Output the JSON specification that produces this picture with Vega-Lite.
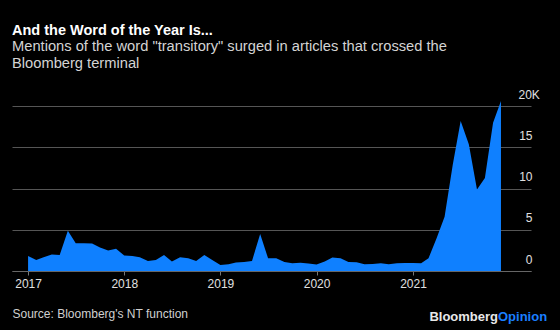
{
  "$schema": "https://vega.github.io/schema/vega-lite/v6.json",
  "autosize": "none",
  "width": 519,
  "height": 173,
  "padding": {"left": 12, "top": 98, "right": 29, "bottom": 59},
  "background": "black",
  "config": {"view": {"stroke": null}, "font": "Liberation Sans"},
  "title": {
    "text": "And the Word of the Year Is...",
    "subtitle": ["Mentions of the word \"transitory\" surged in articles that crossed the", "Bloomberg terminal"],
    "anchor": "start",
    "frame": "group",
    "color": "white",
    "font": "Liberation Sans",
    "fontSize": 14.5,
    "fontWeight": "bold",
    "subtitleFont": "Liberation Sans",
    "subtitleColor": "#d4d4d4",
    "subtitleFontSize": 14.7,
    "subtitleLineHeight": 17,
    "subtitlePadding": 0,
    "offset": 17
  },
  "layer": [
    {
      "data": {"values": [
        {"month": "2017-01-01", "mentions": 1830},
        {"month": "2017-02-01", "mentions": 1340},
        {"month": "2017-03-01", "mentions": 1670},
        {"month": "2017-04-01", "mentions": 2000},
        {"month": "2017-05-01", "mentions": 1950},
        {"month": "2017-06-01", "mentions": 4900},
        {"month": "2017-07-01", "mentions": 3370},
        {"month": "2017-08-01", "mentions": 3370},
        {"month": "2017-09-01", "mentions": 3330},
        {"month": "2017-10-01", "mentions": 2850},
        {"month": "2017-11-01", "mentions": 2500},
        {"month": "2017-12-01", "mentions": 2700},
        {"month": "2018-01-01", "mentions": 1870},
        {"month": "2018-02-01", "mentions": 1830},
        {"month": "2018-03-01", "mentions": 1670},
        {"month": "2018-04-01", "mentions": 1220},
        {"month": "2018-05-01", "mentions": 1340},
        {"month": "2018-06-01", "mentions": 1950},
        {"month": "2018-07-01", "mentions": 1140},
        {"month": "2018-08-01", "mentions": 1670},
        {"month": "2018-09-01", "mentions": 1540},
        {"month": "2018-10-01", "mentions": 1220},
        {"month": "2018-11-01", "mentions": 1950},
        {"month": "2018-12-01", "mentions": 1340},
        {"month": "2019-01-01", "mentions": 730},
        {"month": "2019-02-01", "mentions": 810},
        {"month": "2019-03-01", "mentions": 1020},
        {"month": "2019-04-01", "mentions": 1100},
        {"month": "2019-05-01", "mentions": 1220},
        {"month": "2019-06-01", "mentions": 4500},
        {"month": "2019-07-01", "mentions": 1540},
        {"month": "2019-08-01", "mentions": 1540},
        {"month": "2019-09-01", "mentions": 1100},
        {"month": "2019-10-01", "mentions": 930},
        {"month": "2019-11-01", "mentions": 1000},
        {"month": "2019-12-01", "mentions": 900},
        {"month": "2020-01-01", "mentions": 800},
        {"month": "2020-02-01", "mentions": 1140},
        {"month": "2020-03-01", "mentions": 1630},
        {"month": "2020-04-01", "mentions": 1540},
        {"month": "2020-05-01", "mentions": 1100},
        {"month": "2020-06-01", "mentions": 1060},
        {"month": "2020-07-01", "mentions": 810},
        {"month": "2020-08-01", "mentions": 850},
        {"month": "2020-09-01", "mentions": 930},
        {"month": "2020-10-01", "mentions": 810},
        {"month": "2020-11-01", "mentions": 930},
        {"month": "2020-12-01", "mentions": 980},
        {"month": "2021-01-01", "mentions": 980},
        {"month": "2021-02-01", "mentions": 930},
        {"month": "2021-03-01", "mentions": 1550},
        {"month": "2021-04-01", "mentions": 4000},
        {"month": "2021-05-01", "mentions": 6600},
        {"month": "2021-06-01", "mentions": 12900},
        {"month": "2021-07-01", "mentions": 18200},
        {"month": "2021-08-01", "mentions": 15400},
        {"month": "2021-09-01", "mentions": 9900},
        {"month": "2021-10-01", "mentions": 11300},
        {"month": "2021-11-01", "mentions": 18000},
        {"month": "2021-12-01", "mentions": 20650}
      ]},
      "mark": {"type": "area", "color": "#0f80ff", "interpolate": "linear"},
      "encoding": {
        "x": {
          "field": "month",
          "type": "temporal",
          "scale": {"domain": [{"year": 2016, "month": 11, "date": 1}, {"year": 2022, "month": 3, "date": 25}]},
          "axis": {
            "title": "Source: Bloomberg's NT function",
            "titleAnchor": "start",
            "titleAlign": "left",
            "titleFont": "Liberation Sans",
            "titleFontSize": 12,
            "titleFontWeight": "normal",
            "titleColor": "#d0d0d0",
            "titlePadding": 19,
            "values": [
              {"year": 2017, "month": 1, "date": 1},
              {"year": 2018, "month": 1, "date": 1},
              {"year": 2019, "month": 1, "date": 1},
              {"year": 2020, "month": 1, "date": 1},
              {"year": 2021, "month": 1, "date": 1}
            ],
            "format": "%Y",
            "labelColor": "#e0e0e0",
            "labelFontSize": 12,
            "labelPadding": 3,
            "labelFlush": false,
            "tickColor": "#777777",
            "tickSize": 4,
            "domainColor": "#666666",
            "grid": false
          }
        },
        "y": {
          "field": "mentions",
          "type": "quantitative",
          "scale": {"domain": [0, 21000]},
          "axis": {
            "orient": "right",
            "title": null,
            "values": [0, 5000, 10000, 15000, 20000],
            "grid": true,
            "gridColor": "#555555",
            "domain": false,
            "ticks": false,
            "labelExpr": "datum.value == 20000 ? '20K' : format(datum.value / 1000, 'd')",
            "labelColor": "#e0e0e0",
            "labelFontSize": 12,
            "labelBaseline": "alphabetic",
            "labelOffset": -8,
            "labelAlign": {"condition": {"test": "datum.value == 20000", "value": "left"}, "value": "right"},
            "labelPadding": {"condition": {"test": "datum.value == 20000", "value": -13}, "value": 1}
          }
        }
      }
    },
    {
      "data": {"values": [{"brand": "Bloomberg"}]},
      "mark": {"type": "text", "align": "right", "baseline": "alphabetic", "font": "Liberation Sans", "fontSize": 13, "fontWeight": "bold", "color": "#e8e8e8"},
      "encoding": {"text": {"field": "brand"}, "x": {"value": 486}, "y": {"value": 223}}
    },
    {
      "data": {"values": [{"brand": "Opinion"}]},
      "mark": {"type": "text", "align": "left", "baseline": "alphabetic", "font": "Liberation Sans", "fontSize": 13, "fontWeight": "bold", "color": "#1a7fff"},
      "encoding": {"text": {"field": "brand"}, "x": {"value": 486}, "y": {"value": 223}}
    }
  ]
}
